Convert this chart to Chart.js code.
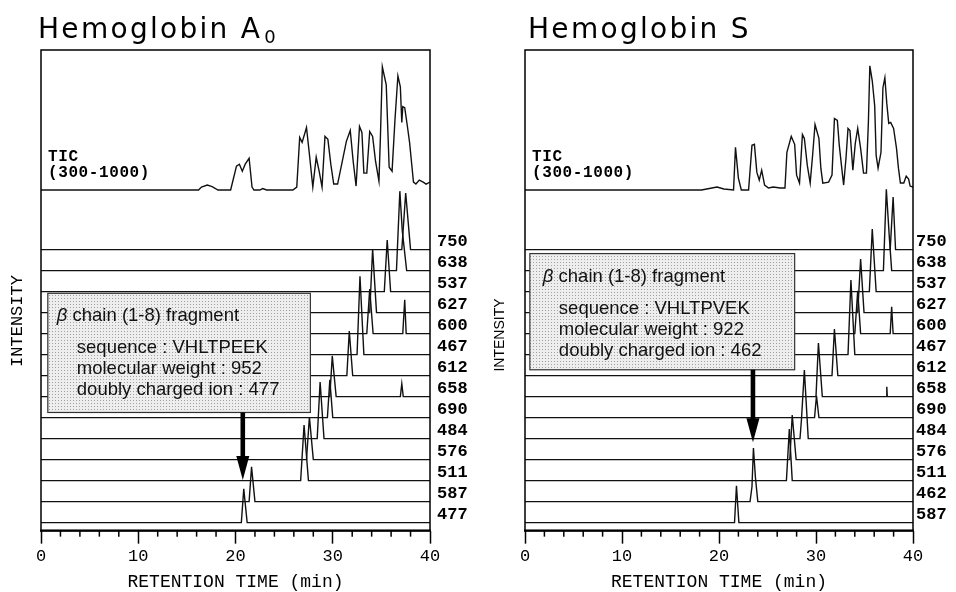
<!DOCTYPE html>
<html>
<head>
<meta charset="utf-8">
<script src="https://cdn.jsdelivr.net/npm/chart.js@4.4.1/dist/chart.umd.min.js"></script>
<style>
  html, body { margin: 0; padding: 0; background: #fff; }
  #wrap { position: relative; width: 956px; height: 592px; }
  canvas { position: absolute; top: 0; }
  #chartA { left: 0; }
  #chartS { left: 478px; }
</style>
</head>
<body>
<div id="wrap">
  <canvas id="chartA" width="478" height="592"></canvas>
  <canvas id="chartS" width="478" height="592"></canvas>
</div>
<script>
// ---- data: [retention time (min), intensity] ----
const ionsA = ['750', '638', '537', '627', '600', '467', '612', '658', '690', '484', '576', '511', '587', '477'];
const ionsS = ['750', '638', '537', '627', '600', '467', '612', '658', '690', '484', '576', '511', '462', '587'];

const ticA = [[0,0],[16.2,0],[16.5,3],[17.1,5],[17.6,3.5],[18.2,0],[19.5,0],[20.1,24],[20.4,26],[20.7,19],[21.0,26],
  [21.4,32],[21.7,3],[21.9,0],[22.5,0],[22.8,1.5],[23.2,0],[25.9,0],[26.3,3],[26.6,53],[26.85,48],[27.3,63],[27.6,36],
  [27.95,3],[28.3,33],[28.6,19],[28.9,3],[29.2,54],[29.5,51],[29.8,26],[30.1,6],[30.5,6],[31.4,49],[31.8,60],[32.1,29],
  [32.4,4],[32.75,64],[33.0,58],[33.2,17],[33.5,17],[33.8,59],[34.1,54],[34.4,29],[34.75,9],[34.9,53],[35.1,124],
  [35.5,106],[35.8,23],[36.1,19],[36.4,71],[36.7,115],[36.95,104],[37.1,68],[37.2,84],[37.4,83],[37.65,66],[37.9,48],
  [38.1,28],[38.3,8],[38.55,6],[38.9,10],[39.3,8],[39.6,6],[40,8]];

const ticS = [[0,0],[18.2,0],[19.0,1.5],[19.8,3],[20.5,1],[21.5,0],[21.7,43],[22.0,12],[22.3,0],[23.05,0],[23.4,45],
  [23.65,46],[23.9,18],[24.15,10],[24.4,20],[24.7,5],[25.1,2],[25.6,3],[26.3,2],[26.8,2],[27.0,38],[27.45,54],[27.8,46],
  [28.0,15],[28.3,7],[28.6,56],[28.8,52],[29.1,25],[29.4,7],[29.65,35],[29.9,66],[30.3,52],[30.5,22],[30.7,7],[31.3,8],
  [31.65,15],[31.9,72],[32.2,70],[32.4,45],[32.7,18],[32.85,5],[33.1,33],[33.3,62],[33.5,60],[33.8,20],[34.05,47],
  [34.3,62],[34.6,42],[34.9,17],[35.2,17],[35.4,68],[35.55,125],[35.8,110],[36.05,85],[36.2,35],[36.4,22],[36.7,38],
  [36.9,103],[37.1,113],[37.3,87],[37.5,67],[37.7,68],[38.0,62],[38.3,42],[38.5,22],[38.7,7],[39.05,7],[39.3,14],
  [39.55,11],[39.7,4],[40,3]];

// extracted ion traces, top to bottom
const tracesA = [
  [[0,0],[37.1,0],[37.5,57],[38.0,0],[40,0]],
  [[0,0],[36.55,0],[36.9,80],[37.15,40],[37.6,0],[40,0]],
  [[0,0],[35.3,0],[35.6,52],[35.95,0],[40,0]],
  [[0,0],[33.8,0],[34.1,64],[34.5,0],[40,0]],
  [[0,0],[33.5,0],[33.8,45],[34.15,0],[37.2,0],[37.4,34],[37.55,0],[40,0]],
  [[0,0],[32.5,0],[32.8,79],[33.2,0],[40,0]],
  [[0,0],[31.45,0],[31.7,45],[32.05,0],[40,0]],
  [[0,0],[29.7,0],[29.95,41],[30.35,0],[36.95,0],[37.1,13],[37.25,0],[40,0]],
  [[0,0],[29.45,0],[29.7,38],[30.0,0],[40,0]],
  [[0,0],[28.4,0],[28.7,57],[29.1,0],[40,0]],
  [[0,0],[27.3,0],[27.6,43],[28.0,0],[40,0]],
  [[0,0],[26.7,0],[27.05,56],[27.5,0],[40,0]],
  [[0,0],[21.4,0],[21.65,35],[22.0,0],[40,0]],
  [[0,0],[20.6,0],[20.85,34],[21.2,0],[40,0]]
];

const tracesS = [
  [[0,0],[37.65,0],[37.95,53],[38.2,0],[40,0]],
  [[0,0],[36.95,0],[37.25,82],[37.55,35],[37.8,0],[40,0]],
  [[0,0],[35.5,0],[35.8,63],[36.2,0],[40,0]],
  [[0,0],[34.3,0],[34.6,54],[34.95,0],[40,0]],
  [[0,0],[34.0,0],[34.3,43],[34.6,0],[37.65,0],[37.8,27],[37.95,0],[40,0]],
  [[0,0],[33.3,0],[33.6,75],[34.0,0],[40,0]],
  [[0,0],[31.65,0],[31.9,47],[32.25,0],[40,0]],
  [[0,0],[30.0,0],[30.25,54],[30.65,0],[37.25,0],[37.3,10],[37.35,0],[40,0]],
  [[0,0],[29.85,0],[30.05,22],[30.3,0],[40,0]],
  [[0,0],[28.35,0],[28.5,19],[28.8,69],[29.2,0],[40,0]],
  [[0,0],[27.3,0],[27.55,45],[27.95,0],[40,0]],
  [[0,0],[26.95,0],[27.25,52],[27.55,0],[40,0]],
  [[0,0],[23.2,0],[23.4,15],[23.55,54],[23.75,25],[24.0,0],[40,0]],
  [[0,0],[21.6,0],[21.8,37],[22.05,0],[40,0]]
];

const xTicks = [0, 10, 20, 30, 40];

// ---- layout (vertical units = px of the plot frame) ----
const Y_MAX = 484;
const TIC_BASE = 343;
const ROW_TOP = 283;
const ROW_STEP = 21.15;
const EXT = 3.1;   // baselines run out past 40 min under the m/z labels

const MONO = '"Liberation Mono", "DejaVu Sans Mono", monospace';
const SANS = '"Liberation Sans", Arial, sans-serif';

function buildDatasets(tic, traces) {
  const line = { borderColor: '#111', borderWidth: 1.4, pointRadius: 0, tension: 0, fill: false };
  const sets = [Object.assign({ data: tic.map(p => ({ x: p[0], y: TIC_BASE + p[1] })) }, line)];
  traces.forEach((tr, i) => {
    const base = ROW_TOP - i * ROW_STEP;
    const pts = tr.map(p => ({ x: p[0], y: base + p[1] }));
    pts.push({ x: 40 + EXT, y: base });
    sets.push(Object.assign({ data: pts, clip: false }, line));
  });
  return sets;
}

function stipple(ctx) {
  const c = document.createElement('canvas');
  c.width = c.height = 3;
  const g = c.getContext('2d');
  g.fillStyle = '#eeeeee';
  g.fillRect(0, 0, 3, 3);
  g.fillStyle = '#a0a0a0';
  g.fillRect(1, 1, 1, 1);
  return ctx.createPattern(c, 'repeat');
}

// frame, minor ticks, labels, annotation box and arrow
const panelDecor = {
  id: 'panelDecor',
  afterDatasetsDraw(chart, args, o) {
    const { ctx, chartArea: a, scales: { x, y } } = chart;
    ctx.save();
    ctx.strokeStyle = '#000';
    ctx.fillStyle = '#000';

    // frame
    ctx.lineWidth = 1.5;
    ctx.strokeRect(a.left, a.top, a.right - a.left, a.bottom - a.top);
    ctx.lineWidth = 2.2;
    ctx.beginPath();
    ctx.moveTo(a.left - 1, a.bottom);
    ctx.lineTo(a.right + 1, a.bottom);
    ctx.stroke();

    // minor ticks every 2 min
    ctx.lineWidth = 1.5;
    for (let t = 2; t < 40; t += 2) {
      if (t % 10 === 0) continue;
      const px = x.getPixelForValue(t);
      ctx.beginPath();
      ctx.moveTo(px, a.bottom);
      ctx.lineTo(px, a.bottom + 6);
      ctx.stroke();
    }

    // m/z labels
    ctx.font = 'bold 17px ' + MONO;
    ctx.textBaseline = 'alphabetic';
    o.ions.forEach((ion, i) => {
      const py = y.getPixelForValue(ROW_TOP - i * ROW_STEP);
      ctx.fillText(ion, x.getPixelForValue(40) + o.labelGap, py - 4);
    });

    // TIC label
    const tb = y.getPixelForValue(TIC_BASE);
    ctx.font = 'bold 16px ' + MONO;
    ctx.letterSpacing = '0.6px';
    ctx.fillText('TIC', a.left + 7, tb - 29);
    ctx.fillText('(300-1000)', a.left + 7, tb - 13);
    ctx.letterSpacing = '0px';

    // INTENSITY
    ctx.save();
    ctx.translate(o.intensity.x, o.intensity.y);
    ctx.rotate(-Math.PI / 2);
    ctx.textAlign = 'center';
    ctx.textBaseline = 'middle';
    ctx.font = o.intensity.font;
    ctx.fillText('INTENSITY', 0, 0);
    ctx.restore();

    // panel title
    ctx.font = '28px "DejaVu Sans", sans-serif';
    ctx.letterSpacing = '2.3px';
    ctx.fillText(o.title, o.titleX, 38);
    const tw = ctx.measureText(o.title).width;
    ctx.letterSpacing = '0px';
    if (o.sub) {
      ctx.font = '18px "DejaVu Sans", sans-serif';
      ctx.fillText(o.sub, o.titleX + tw + 2, 43);
    }

    // annotation box
    const b = o.box;
    const bx0 = x.getPixelForValue(b.x0), bx1 = x.getPixelForValue(b.x1);
    const by0 = y.getPixelForValue(b.top), by1 = y.getPixelForValue(b.bottom);
    ctx.fillStyle = stipple(ctx);
    ctx.fillRect(bx0, by0, bx1 - bx0, by1 - by0);
    ctx.lineWidth = 1.2;
    ctx.strokeStyle = '#333';
    ctx.strokeRect(bx0, by0, bx1 - bx0, by1 - by0);
    ctx.fillStyle = '#111';
    ctx.font = 'italic 18.5px ' + SANS;
    ctx.fillText('\u03b2', bx0 + b.pad1, by0 + 28);
    const bw = ctx.measureText('\u03b2').width;
    ctx.font = '18.5px ' + SANS;
    ctx.fillText(' chain (1-8) fragment', bx0 + b.pad1 + bw, by0 + 28);
    b.lines.forEach((s, i) => ctx.fillText(s, bx0 + b.pad2, by0 + [60, 81, 102][i]));

    // arrow
    const ar = o.arrow;
    const ax = x.getPixelForValue(ar.x);
    const ay0 = y.getPixelForValue(ar.from), ay1 = y.getPixelForValue(ar.to);
    ctx.fillStyle = '#000';
    ctx.fillRect(ax - 2.3, ay0, 4.6, ay1 - ay0 - 22);
    ctx.beginPath();
    ctx.moveTo(ax - 6.5, ay1 - 24);
    ctx.lineTo(ax + 6.5, ay1 - 24);
    ctx.lineTo(ax, ay1);
    ctx.closePath();
    ctx.fill();

    ctx.restore();
  }
};

function makeChart(id, tic, traces, pad, decor) {
  return new Chart(document.getElementById(id), {
    type: 'line',
    data: { datasets: buildDatasets(tic, traces) },
    plugins: [panelDecor],
    options: {
      responsive: false,
      animation: false,
      events: [],
      layout: { padding: pad },
      plugins: { legend: { display: false }, tooltip: { enabled: false }, panelDecor: decor },
      scales: {
        x: {
          type: 'linear', min: 0, max: 40,
          border: { display: false },
          grid: { drawOnChartArea: false, tickLength: 13, tickWidth: 1.5, tickColor: '#000' },
          afterBuildTicks: s => { s.ticks = xTicks.map(v => ({ value: v })); },
          ticks: { color: '#000', padding: 3, maxRotation: 0, autoSkip: false,
                   font: { family: MONO, size: 17, lineHeight: 1.15 } },
          title: { display: true, text: 'RETENTION TIME (min)', color: '#000',
                   font: { family: MONO, size: 18, lineHeight: 1.1 }, padding: { top: 3, bottom: 0 } }
        },
        y: { type: 'linear', min: 0, max: Y_MAX, display: false }
      }
    }
  });
}

makeChart('chartA', ticA, tracesA, { left: 41, right: 48, top: 50, bottom: 0 }, {
  ions: ionsA, labelGap: 7, title: 'Hemoglobin A', sub: '0', titleX: 38,
  intensity: { x: 17, y: 321, font: '17px ' + MONO },
  box: { x0: 0.7, x1: 27.7, top: 239, bottom: 119, pad1: 9, pad2: 29,
         lines: ['sequence : VHLTPEEK', 'molecular weight : 952', 'doubly charged ion : 477'] },
  arrow: { x: 20.75, from: 119, to: 51 }
});

makeChart('chartS', ticS, tracesS, { left: 47, right: 43, top: 50, bottom: 0 }, {
  ions: ionsS, labelGap: 3, title: 'Hemoglobin S', sub: '', titleX: 50,
  intensity: { x: 22, y: 335, font: '14px ' + SANS },
  box: { x0: 0.5, x1: 27.8, top: 279, bottom: 162, pad1: 13, pad2: 29,
         lines: ['sequence : VHLTPVEK', 'molecular weight : 922', 'doubly charged ion : 462'] },
  arrow: { x: 23.5, from: 162, to: 89 }
});
</script>
</body>
</html>
